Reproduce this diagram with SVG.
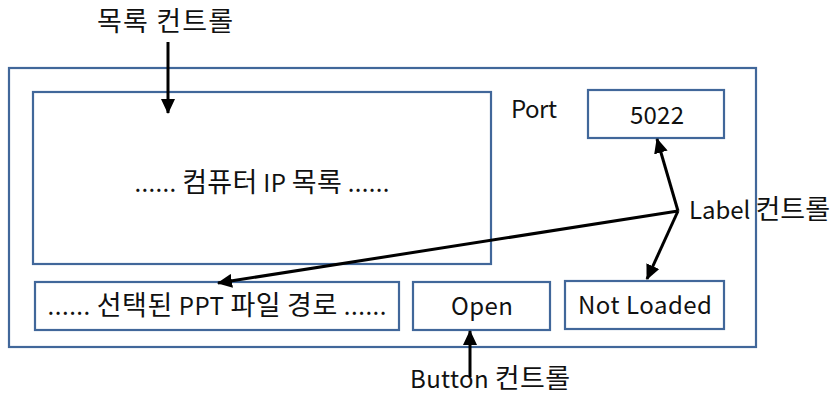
<svg xmlns="http://www.w3.org/2000/svg" width="833" height="396" viewBox="0 0 833 396">
<style>
.box{fill:#fff;stroke:#41679A;stroke-width:2.2}
.t{font-family:"Malgun Gothic","Noto Sans CJK KR","Noto Sans",sans-serif;font-size:24px;fill:#111}
.k{font-size:27px}
.c{text-anchor:middle}
.a{stroke:#000;stroke-width:3;fill:none;marker-end:url(#ah)}
</style>
<defs>
<marker id="ah" markerUnits="userSpaceOnUse" markerWidth="16" markerHeight="14" refX="14" refY="7" orient="auto">
<path d="M0,0 L15,7 L0,14 Z" fill="#000"/>
</marker>
</defs>
<rect width="833" height="396" fill="#fff"/>
<g id="form"><rect class="box" x="9" y="68" width="747" height="279"/></g>
<g id="ipList"><rect class="box" x="33" y="92" width="458" height="172"/><text class="t c" x="262" y="192" textLength="255" lengthAdjust="spacing">...... <tspan class="k">컴퓨터</tspan> IP <tspan class="k">목록</tspan> ......</text></g>
<g id="portLabel"><text class="t" x="511" y="118" textLength="46" lengthAdjust="spacing">Port</text></g>
<g id="portBox"><rect class="box" x="588" y="90" width="136" height="48"/><text class="t c" x="657" y="124" textLength="54" lengthAdjust="spacing">5022</text></g>
<g id="pathBox"><rect class="box" x="35" y="282" width="364" height="48"/><text class="t c" x="217" y="315" textLength="339" lengthAdjust="spacing">...... <tspan class="k">선택된</tspan> PPT <tspan class="k">파일</tspan> <tspan class="k">경로</tspan> ......</text></g>
<g id="openBtn"><rect class="box" x="413" y="282" width="137" height="48"/><text class="t c" x="482" y="315" textLength="62" lengthAdjust="spacing">Open</text></g>
<g id="statusBox"><rect class="box" x="565" y="281" width="159" height="48"/><text class="t c" x="645" y="314" textLength="134" lengthAdjust="spacing">Not Loaded</text></g>
<g id="listCaption"><text class="t k" x="97" y="31" textLength="136" lengthAdjust="spacing">목록 컨트롤</text></g>
<g id="labelCaption"><text class="t" x="689" y="219" textLength="141" lengthAdjust="spacing">Label <tspan class="k">컨트롤</tspan></text></g>
<g id="buttonCaption"><text class="t" x="410" y="388" textLength="160" lengthAdjust="spacing">Button <tspan class="k">컨트롤</tspan></text></g>
<g id="connectors">
<line class="a" x1="168" y1="42" x2="168" y2="113"/>
<line class="a" x1="678" y1="211" x2="657" y2="139"/>
<line class="a" x1="678" y1="211" x2="647" y2="279"/>
<line class="a" x1="678" y1="211" x2="218" y2="283"/>
<line class="a" x1="470" y1="377" x2="470" y2="331"/>
</g>
</svg>
